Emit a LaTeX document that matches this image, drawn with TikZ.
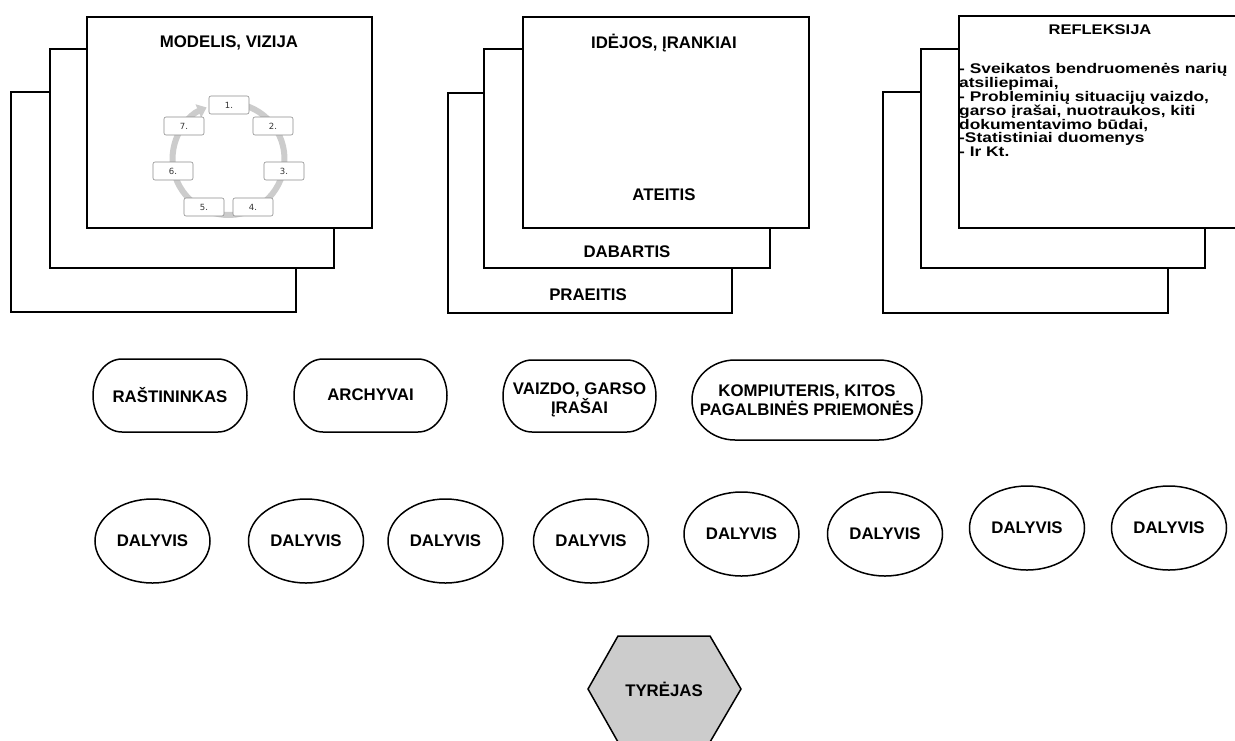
\documentclass[tikz,border=0pt]{standalone}
\usepackage{fontspec}
\setmainfont{Liberation Sans}
\newfontfamily\cycfont{DejaVu Sans}
% widened faces used in the reflection sheet
\newfontfamily\reftitlefont{Liberation Sans}[FakeStretch=1.18]
\newfontfamily\refbodyfont{Liberation Sans}[FakeStretch=1.24]
\usetikzlibrary{shapes.geometric,arrows.meta}

% fixed line pitch, even when accented lines touch
\newcommand\tightlines{\lineskiplimit=-50pt\relax\lineskip=0pt\relax}

\tikzset{
  sheet/.style={draw, line width=2pt, fill=white, inner sep=0pt, anchor=north west},
  lbl/.style={font=\bfseries\fontsize{16.8}{18.5}\selectfont, inner sep=0pt, align=center},
  reftitle/.style={font=\reftitlefont\bfseries\fontsize{14}{16}\selectfont, inner sep=0pt},
  bodytext/.style={font=\refbodyfont\bfseries\fontsize{14}{13.8}\selectfont\tightlines,
                   inner sep=0pt, align=left, anchor=north west},
  pill/.style={draw, line width=1.5pt, fill=white},
  person/.style={ellipse, draw, line width=1.5pt, minimum width=115pt, minimum height=84pt,
                 inner sep=0pt, font=\bfseries\fontsize{16.8}{18}\selectfont},
  cycbox/.style={draw=black!45, rounded corners=2pt, fill=white, line width=0.6pt,
                 minimum width=40pt, minimum height=18pt, inner sep=0pt,
                 font=\cycfont\fontsize{8.5}{9}\selectfont, text=black!80},
  ring/.style={line width=6pt, draw=black!20, -{Triangle[length=9pt,width=14pt]}},
  hexa/.style={draw, line width=1.5pt, fill=black!20},
}

\begin{document}
\begin{tikzpicture}[x=1pt, y=-1pt]
\useasboundingbox (0,0) rectangle (1235,740);
\clip (0,0) rectangle (1235,740);

% ---- stack 1: model and vision
\node[sheet, minimum width=285pt, minimum height=220pt] (m3) at (10,91) {};
\node[sheet, minimum width=284pt, minimum height=219pt] (m2) at (49,48) {};
\node[sheet, minimum width=285pt, minimum height=211pt] (m1) at (86,16) {};
\node[lbl] (mtitle) at (229,43) {MODELIS, VIZIJA};

% seven-step cycle
\coordinate (cyc) at (228.5,159);
\draw[ring] ([shift={(80:56pt)}]cyc) arc[start angle=80, end angle=-247, radius=56pt];
\node[cycbox] (c1) at (229,105) {1.};
\node[cycbox] (c2) at (273,126) {2.};
\node[cycbox] (c3) at (284,171) {3.};
\node[cycbox] (c4) at (253,207) {4.};
\node[cycbox] (c5) at (204,207) {5.};
\node[cycbox] (c6) at (173,171) {6.};
\node[cycbox] (c7) at (184,126) {7.};

% ---- stack 2: time layers
\node[sheet, minimum width=284pt, minimum height=220pt] (t3) at (447,92) {};
\node[sheet, minimum width=286pt, minimum height=219pt] (t2) at (483,48) {};
\node[sheet, minimum width=286pt, minimum height=211pt] (t1) at (522,16) {};
\node[lbl] (ttitle) at (664,43) {IDĖJOS, ĮRANKIAI};
\node[lbl] (future) at (664,195) {ATEITIS};
\node[lbl] (present) at (627,252) {DABARTIS};
\node[lbl] (past) at (588,295) {PRAEITIS};

% ---- stack 3: reflection
\node[sheet, minimum width=285pt, minimum height=221pt] (r3) at (882,91) {};
\node[sheet, minimum width=284pt, minimum height=219pt] (r2) at (920,48) {};
\node[sheet, minimum width=300pt, minimum height=212pt] (r1) at (958,15) {};
\node[reftitle] (rtitle) at (1100,29.5) {REFLEKSIJA};
\node[bodytext] (rbody) at (959,63.5) {- Sveikatos bendruomenės narių\\
atsiliepimai,\\
- Probleminių situacijų vaizdo,\\
garso įrašai, nuotraukos, kiti\\
dokumentavimo būdai,\\
-Statistiniai duomenys\\
- Ir Kt.};

% ---- resources (flat top and bottom, elliptic ends)
\draw[pill] (122,359) -- (218,359) arc[start angle=90, end angle=-90, x radius=29pt, y radius=36.5pt]
  -- (122,432) arc[start angle=270, end angle=90, x radius=29pt, y radius=36.5pt] -- cycle;
\node[lbl] (res1) at (170,395) {RAŠTININKAS};

\draw[pill] (323,359) -- (418,359) arc[start angle=90, end angle=-90, x radius=29pt, y radius=36.5pt]
  -- (323,432) arc[start angle=270, end angle=90, x radius=29pt, y radius=36.5pt] -- cycle;
\node[lbl] (res2) at (370.5,395) {ARCHYVAI};

\draw[pill] (532,360) -- (627,360) arc[start angle=90, end angle=-90, x radius=29pt, y radius=36pt]
  -- (532,432) arc[start angle=270, end angle=90, x radius=29pt, y radius=36pt] -- cycle;
\node[lbl] (res3) at (579.5,400) {VAIZDO, GARSO\\ĮRAŠAI};

\draw[pill] (735,360) -- (879,360) arc[start angle=90, end angle=-90, x radius=43pt, y radius=40pt]
  -- (735,440) arc[start angle=270, end angle=90, x radius=43pt, y radius=40pt] -- cycle;
\node[lbl] (res4) at (807,400) {KOMPIUTERIS, KITOS\\PAGALBINĖS PRIEMONĖS};

% ---- participants
\node[person] (d1) at (152.5,541) {DALYVIS};
\node[person] (d2) at (306,541) {DALYVIS};
\node[person] (d3) at (445.5,541) {DALYVIS};
\node[person] (d4) at (591,541) {DALYVIS};
\node[person] (d5) at (741.5,534) {DALYVIS};
\node[person] (d6) at (885,534) {DALYVIS};
\node[person] (d7) at (1027,528) {DALYVIS};
\node[person] (d8) at (1169,528) {DALYVIS};

% ---- researcher
\draw[hexa] (618,636) -- (710,636) -- (741,689) -- (710,742) -- (618,742) -- (588,689) -- cycle;
\node[lbl] (res) at (664,689) {TYRĖJAS};
\end{tikzpicture}
\end{document}
